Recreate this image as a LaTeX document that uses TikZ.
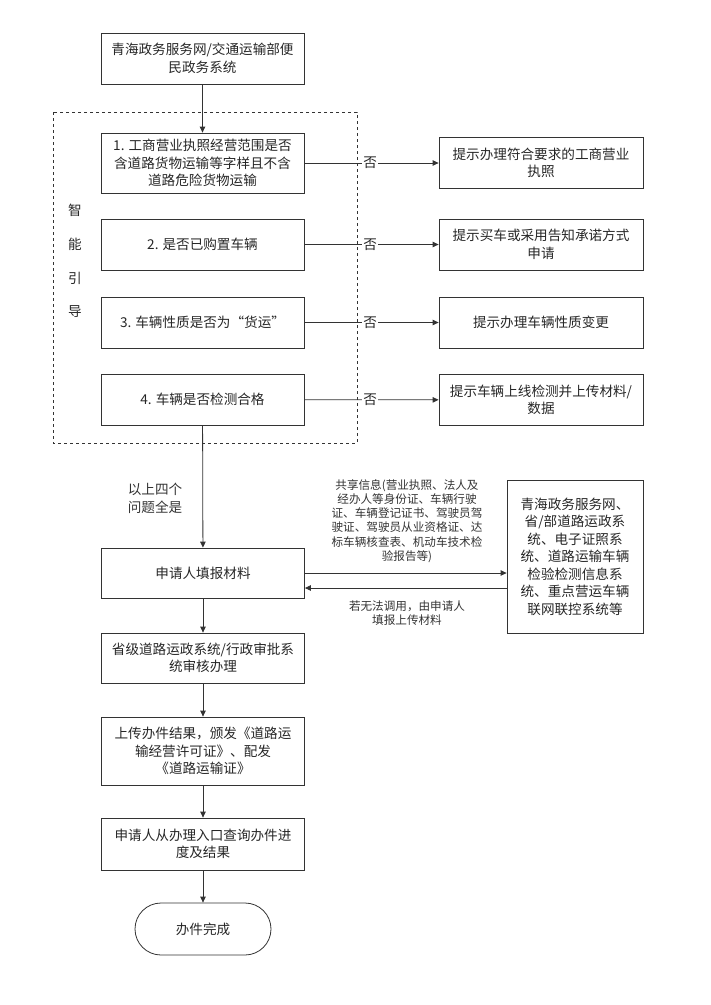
\documentclass[tikz,border=0pt]{standalone}
\usepackage{fontspec}
\setmainfont{Noto Sans CJK SC}
\usetikzlibrary{arrows.meta}
\newcommand{\boxfont}{\fontsize{13.6}{17.5}\selectfont}
\newcommand{\notefont}{\fontsize{11.6}{14.3}\selectfont}
\tikzset{
  flowbox/.style={draw=black!80, line width=0.8pt, minimum width=203pt, minimum height=51pt,
    inner sep=0pt, align=center, font=\boxfont, text=black!85},
  hintbox/.style={flowbox, minimum width=204pt},
  flowarrow/.style={draw=black!80, line width=0.8pt, -{Triangle[length=6pt,width=5.5pt]}},
  notetext/.style={align=center, font=\notefont, text=black!80, inner sep=0pt}
}
\begin{document}
\begin{tikzpicture}[x=1pt,y=-1pt]
    \useasboundingbox (0,0) rectangle (711,1005);

    % Entry
    \node[flowbox] (portal) at (202.5,58.5) {青海政务服务网/交通运输部便\\民政务系统};

    % Guide frame
    \draw[dashed, draw=black!80, line width=0.7pt] (53,112) rectangle (357,443);
    \foreach \ch [count=\i] in {智,能,引,导}
        \node[font=\boxfont, text=black!85] (guide\i) at (75,176+34*\i) {\ch};

    % Questions
    \node[flowbox, minimum height=60pt] (q1) at (202.5,163) {1. 工商营业执照经营范围是否\\含道路货物运输等字样且不含\\道路危险货物运输};
    \node[flowbox] (q2) at (202.5,244.5) {2. 是否已购置车辆};
    \node[flowbox] (q3) at (202.5,322.5) {3. 车辆性质是否为“货运”};
    \node[flowbox] (q4) at (202.5,399.5) {4. 车辆是否检测合格};

    % Hints
    \node[hintbox] (hint1) at (541,163) {提示办理符合要求的工商营业\\执照};
    \node[hintbox] (hint2) at (541,244.5) {提示买车或采用告知承诺方式\\申请};
    \node[hintbox] (hint3) at (541,322.5) {提示办理车辆性质变更};
    \node[hintbox] (hint4) at (541,400) {提示车辆上线检测并上传材料/\\数据};

    % Processing
    \node[flowbox, minimum height=50pt] (fill) at (203,573) {申请人填报材料};
    \node[flowbox, minimum width=136pt, minimum height=153pt] (sys) at (575,556.5)
        {青海政务服务网、\\省/部道路运政系\\统、电子证照系\\统、道路运输车辆\\检验检测信息系\\统、重点营运车辆\\联网联控系统等};
    \node[flowbox, minimum height=50pt] (review) at (203,658) {省级道路运政系统/行政审批系\\统审核办理};
    \node[flowbox, minimum height=68pt] (issue) at (203,751) {上传办件结果，颁发《道路运\\输经营许可证》、配发\\《道路运输证》};
    \node[flowbox, minimum height=52pt] (query) at (203,844) {申请人从办理入口查询办件进\\度及结果};
    \node[flowbox, minimum width=136pt, minimum height=52pt, rounded corners=26pt] (done) at (203,929) {办件完成};

    % Draw lines
    \draw[flowarrow] (portal) -- (q1);
    \foreach \i in {1,...,4}
        \draw[flowarrow] (q\i) -- node[pos=0.49, fill=white, font=\boxfont, inner sep=1pt, text=black!85] {否} (hint\i);
    \draw[flowarrow] (q4) -- (fill);
    \draw[flowarrow] (fill.east) -- (fill.east -| sys.west);
    \draw[flowarrow] ([yshift=-15pt]fill.east -| sys.west) -- ([yshift=-15pt]fill.east);
    \draw[flowarrow] (fill) -- (review);
    \draw[flowarrow] (review) -- (issue);
    \draw[flowarrow] (issue) -- (query);
    \draw[flowarrow] (query) -- (done);

    % Labels
    \node[notetext, font=\boxfont] (allyes) at (155,498.5) {以上四个\\问题全是};
    \node[notetext] (share) at (407,521) {共享信息(营业执照、法人及\\经办人等身份证、车辆行驶\\证、车辆登记证书、驾驶员驾\\驶证、驾驶员从业资格证、达\\标车辆核查表、机动车技术检\\验报告等)};
    \node[notetext] (manual) at (407,613) {若无法调用，由申请人\\填报上传材料};

\end{tikzpicture}
\end{document}
